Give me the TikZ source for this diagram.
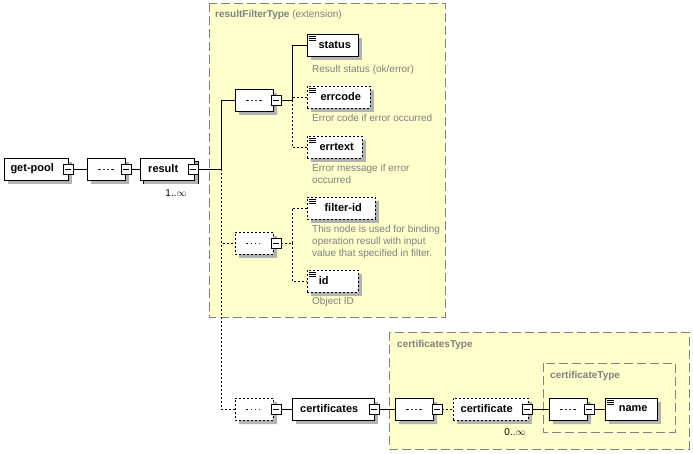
\documentclass[tikz,border=0pt]{standalone}
\usepackage{fontspec}
\setmainfont{Liberation Sans}
\usetikzlibrary{shapes.misc,shadows}
\definecolor{ylw}{RGB}{255,255,204}
\definecolor{tgray}{RGB}{128,128,128}
\begin{document}
\begin{tikzpicture}[x=1pt,y=-1pt,
  sh/.style={drop shadow={shadow xshift=4pt,shadow yshift=-4pt,opacity=1,fill=black!30}},
  el/.style={draw,fill=white,minimum height=22,inner sep=0,anchor=west,font=\fontsize{11}{13}\selectfont\bfseries,sh},
  opt/.style={dashed,dash pattern=on 2pt off 2pt},
  seq/.style={chamfered rectangle,chamfered rectangle xsep=6pt,draw,fill=white,minimum width=38,minimum height=22,inner sep=0,sh,
    path picture={\draw ([xshift=-8]path picture bounding box.center) -- ([xshift=8]path picture bounding box.center);
      \foreach \d in {-4,0,4}{\fill ([xshift=\d]path picture bounding box.center) circle (1.6);}}},
  mb/.style={draw,fill=white,minimum size=10,inner sep=0,
    path picture={\draw ([xshift=2]path picture bounding box.west) -- ([xshift=-2]path picture bounding box.east);}},
  ann/.style={anchor=north west,text=tgray,font=\fontsize{10}{12}\selectfont,inner sep=0,align=left},
  tbox/.style={draw=tgray,fill=ylw,dash pattern=on 9pt off 4pt},
  tlab/.style={anchor=north west,text=tgray,font=\fontsize{10}{12}\selectfont,inner sep=0},
  mult/.style={font=\fontsize{10}{12}\selectfont,inner sep=0}]
\useasboundingbox (0,0) rectangle (693,454);
\fill[white] (0,0) rectangle (693,454);
% type boxes
\draw[tbox] (209,3) rectangle (445,317);
\node[tlab] (t1) at (215,10) {\textbf{resultFilterType} (extension)};
\draw[tbox] (389,332) rectangle (689,449);
\node[tlab] (t2) at (397,340) {\textbf{certificatesType}};
\draw[tbox,fill=none] (543,363) rectangle (675,432);
\node[tlab] (t3) at (550,371) {\textbf{certificateType}};
% left part
\node[el,minimum width=64] (getpool) at (4,169) {get-pool\hspace*{8pt}};
\node[mb] (m0) at (68,169) {};
\draw (m0.west) ++(-3,0) coordinate (c0);
\node[seq] (s0) at (106,169) {};
\node[mb] (ms0) at (126,169) {};
\draw (m0.east) -- (s0.west);
\draw[fill=white] (143,161) rectangle (198,183);
\node[el,minimum width=54] (result) at (140,169) {result\hspace*{8pt}};
\node[mb] (mres) at (193,169) {};
\node[mult] (mu1) at (176,193) {1..$\infty$};
\draw (ms0.east) -- (result.west);
\coordinate (j1) at (221,169);
\draw (mres.east) -- (j1);
% seq1
\node[seq] (s1) at (254,100) {};
\node[mb] (ms1) at (276,100) {};
\draw (j1) |- (s1.west);
\node[el,minimum width=51] (status) at (307,45) {\hspace*{4pt}status};
\node[el,minimum width=63,opt] (errcode) at (307,97) {\hspace*{4pt}errcode};
\node[el,minimum width=55,opt] (errtext) at (307,147) {\hspace*{4pt}errtext};
\coordinate (j2) at (292,100);
\draw (ms1.east) -- (j2);
\draw (j2) |- (status.west);
\draw[opt] (j2) |- (errcode.west);
\draw[opt] (j2) |- (errtext.west);
\node[ann] (a1) at (312,65) {Result status (ok/error)};
\node[ann] (a2) at (312,114) {Error code if error occurred};
\node[ann] (a3) at (312,164) {Error message if error\\occurred};
% seq2
\node[seq,opt] (s2) at (254,243) {};
\node[mb] (ms2) at (276,243) {};
\draw[opt] (j1) |- (s2.west);
\node[el,minimum width=68,opt] (filterid) at (307,208) {\hspace*{4pt}filter-id};
\node[el,minimum width=51,opt] (id) at (307,281) {\hspace*{2pt}id\hspace*{20pt}};
\coordinate (j3) at (292,243);
\draw[opt] (ms2.east) -- (j3);
\draw[opt] (j3) |- (filterid.west);
\draw[opt] (j3) |- (id.west);
\node[ann] (a4) at (312,225) {This node is used for binding\\operation resull with input\\value that specified in filter.};
\node[ann] (a5) at (312,297) {Object ID};
% seq3
\node[seq,opt] (s3) at (254,409) {};
\node[mb] (ms3) at (276,409) {};
\draw[opt] (j1) |- (s3.west);
\node[el,minimum width=82] (certs) at (292,409) {certificates\hspace*{8pt}};
\node[mb] (mc) at (374,409) {};
\draw (ms3.east) -- (certs.west);
\node[seq] (s4) at (414,409) {};
\node[mb] (ms4) at (437,409) {};
\draw (mc.east) -- (s4.west);
\node[el,minimum width=75,opt] (cert) at (453,409) {certificate\hspace*{8pt}};
\node[mb] (mcert) at (527,409) {};
\node[mult] (mu2) at (515,432) {0..$\infty$};
\draw[opt] (ms4.east) -- (cert.west);
\node[seq] (s5) at (568,409) {};
\node[mb] (ms5) at (589,409) {};
\draw (mcert.east) -- (s5.west);
\node[el,minimum width=52] (name) at (605,409) {\hspace*{4pt}name};
\draw (ms5.east) -- (name.west);
% content icons
\foreach \n in {status,errcode,errtext,filterid,id,name}{
  \foreach \k in {0,2,4}{\draw[line width=0.8pt] ([xshift=2,yshift=-3-\k]\n.north west) -- ++(7,0);}}
\end{tikzpicture}
\end{document}
